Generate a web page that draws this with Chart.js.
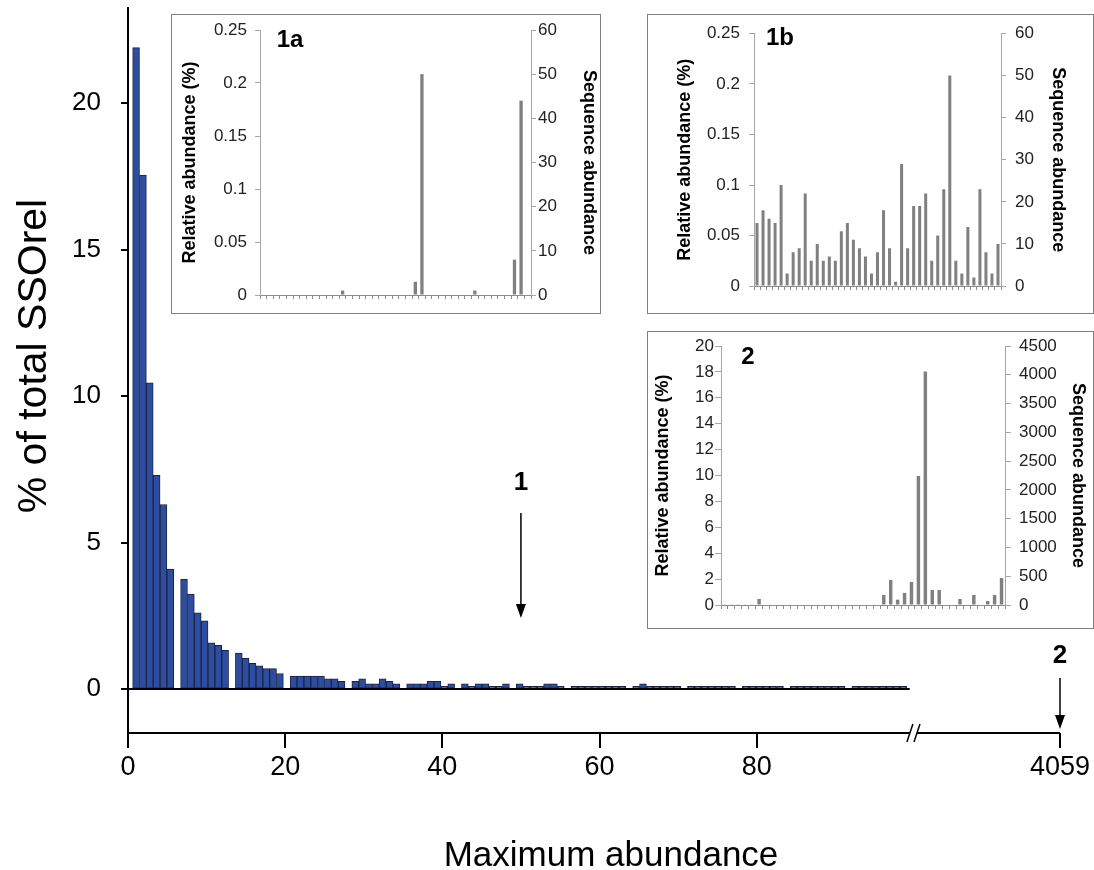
<!DOCTYPE html>
<html>
<head>
<meta charset="utf-8">
<script src="https://cdn.jsdelivr.net/npm/chart.js@4.4.1/dist/chart.umd.min.js"></script>
<style>
  html, body { margin: 0; padding: 0; background: #fff; }
  #page { position: relative; width: 1094px; height: 870px; overflow: hidden; }
  #main { position: absolute; left: 0; top: 0; }
  .inset { position: absolute; box-sizing: border-box; border: 1px solid #808080; background: #fff; }
  .inset canvas { display: block; }
</style>
</head>
<body>
<div id="page">
  <canvas id="main" width="1094" height="870"></canvas>
  <div class="inset" style="left:171px;top:14px;width:430px;height:300px"><canvas id="c1a" width="428" height="298"></canvas></div>
  <div class="inset" style="left:647px;top:14px;width:447px;height:300px"><canvas id="c1b" width="445" height="298"></canvas></div>
  <div class="inset" style="left:647px;top:331px;width:447px;height:298px"><canvas id="c2" width="445" height="296"></canvas></div>
</div>
<script>
// main histogram, % of total SSOrel in each maximum-abundance bin
var mainValues = [
  21.9, 17.55, 10.45, 7.3, 6.3, 4.1, 0, 3.75, 3.24, 2.6,
  2.33, 1.58, 1.49, 1.32, 0, 1.23, 1.05, 0.88, 0.79, 0.7,
  0.7, 0.53, 0, 0.44, 0.44, 0.44, 0.44, 0.44, 0.35, 0.35,
  0.26, 0, 0.26, 0.35, 0.18, 0.18, 0.35, 0.26, 0.18, 0,
  0.18, 0.18, 0.18, 0.26, 0.26, 0.09, 0.18, 0, 0.18, 0.09,
  0.18, 0.18, 0.09, 0.09, 0.18, 0, 0.18, 0.09, 0.09, 0.09,
  0.18, 0.18, 0.09, 0, 0.09, 0.09, 0.09, 0.09, 0.09, 0.09,
  0.09, 0.09, 0, 0.09, 0.18, 0.09, 0.09, 0.09, 0.09, 0.09,
  0, 0.09, 0.09, 0.09, 0.09, 0.09, 0.09, 0.09, 0, 0.09,
  0.09, 0.09, 0.09, 0.09, 0.09, 0, 0.09, 0.09, 0.09, 0.09,
  0.09, 0.09, 0.09, 0.09, 0, 0.09, 0.09, 0.09, 0.09, 0.09,
  0.09, 0.09, 0.09
];
var mainBins = mainValues.map(function (v, i) { return i + 1; });
var yTicks = [0, 5, 10, 15, 20];
var xTicks = [0, 20, 40, 60, 80];
var xBreakLabel = '4059';
var arrowAt = 50;            // SSOs of insets 1a / 1b
var arrowLabels = ['1', '2'];

// insets: sequence abundance of each sample (right axis), left axis is the same in %
var insetCats = [1,2,3,4,5,6,7,8,9,10,11,12,13,14,15,16,17,18,19,20,21,22,23,24,25,26,27,28,29,30,31,32,33,34,35,36,37,38,39,40,41];
var seq1a = [0,0,0,0,0,0,0,0,0,0, 0,0,1,0,0,0,0,0,0,0, 0,0,0,3,50,0,0,0,0,0, 0,0,1,0,0,0,0,0,8,44, 0];
var seq1b = [15,18,16,15,24,3,8,9,22,6, 10,6,7,6,13,15,11,9,7,3, 8,18,9,1,29,9,19,19,22,6, 12,23,50,6,3,14,2,23,8,3, 10];
var seq2 = [12,12,12,12,12,105,0,0,0,0, 0,0,0,0,0,0,0,0,0,0, 0,0,0,175,435,92,210,400,2240,4059, 260,260,0,0,105,0,175,0,70,175, 468];

Chart.defaults.font.family = "'Liberation Sans', Arial, sans-serif";
Chart.defaults.color = '#000';

var xMax = 118.6;        // where the 4059 tick sits on the broken axis
var breakFrom = 99.5, breakTo = 100.4;

function num(v) { return String(+(+v).toFixed(2)); }
function noPad(s) { s.paddingTop = 0; s.paddingBottom = 0; s.paddingLeft = 0; s.paddingRight = 0; }

var mainDecor = {
  id: 'mainDecor',
  afterDraw: function (chart) {
    var ctx = chart.ctx, xs = chart.scales.x, xb = chart.scales.xb, ys = chart.scales.y, area = chart.chartArea;
    ctx.save();
    ctx.strokeStyle = '#000';
    ctx.lineWidth = 2;
    // zero line under the bars
    var y0 = ys.getPixelForValue(0);
    ctx.beginPath();
    ctx.moveTo(area.left, y0);
    ctx.lineTo(xb.getPixelForValue(mainBins[mainBins.length - 1] + 0.5) + 3, y0);
    ctx.stroke();
    // broken x axis
    var yb = area.bottom, b1 = xs.getPixelForValue(breakFrom), b2 = xs.getPixelForValue(breakTo);
    ctx.beginPath();
    ctx.moveTo(area.left, yb); ctx.lineTo(b1, yb);
    ctx.moveTo(b2, yb); ctx.lineTo(area.right, yb);
    ctx.stroke();
    ctx.lineWidth = 1.5;
    [b1, b2].forEach(function (b) {
      ctx.beginPath(); ctx.moveTo(b - 3, yb + 9); ctx.lineTo(b + 3, yb - 9); ctx.stroke();
    });
    // arrows
    function arrow(x, top, bottom, label, labelY) {
      ctx.lineWidth = 1.5;
      ctx.beginPath(); ctx.moveTo(x, top); ctx.lineTo(x, bottom - 10); ctx.stroke();
      ctx.beginPath(); ctx.moveTo(x - 5, bottom - 14); ctx.lineTo(x + 5, bottom - 14); ctx.lineTo(x, bottom); ctx.closePath(); ctx.fill();
      ctx.font = "bold 26px 'Liberation Sans', Arial, sans-serif";
      ctx.textAlign = 'center'; ctx.textBaseline = 'middle';
      ctx.fillText(label, x, labelY);
    }
    ctx.fillStyle = '#000';
    arrow(xs.getPixelForValue(arrowAt), 513, 618, arrowLabels[0], 483);
    arrow(xs.getPixelForValue(xMax), 678, 729, arrowLabels[1], 656);
    // axis titles
    ctx.font = "35px 'Liberation Sans', Arial, sans-serif";
    ctx.textAlign = 'center'; ctx.textBaseline = 'middle';
    ctx.fillText('Maximum abundance', 611, 856);
    ctx.translate(35, 356);
    ctx.rotate(-Math.PI / 2);
    ctx.font = "41px 'Liberation Sans', Arial, sans-serif";
    ctx.fillText('% of total SSOrel', 0, 0);
    ctx.restore();
  }
};

new Chart(document.getElementById('main'), {
  type: 'bar',
  data: {
    datasets: [{
      data: mainValues.map(function (v, i) { return { x: mainBins[i], y: v }; }),
      xAxisID: 'xb',
      yAxisID: 'y',
      backgroundColor: '#2d4ea0',
      borderColor: '#1c2340',
      borderWidth: 1,
      borderSkipped: false,
      barPercentage: 1,
      categoryPercentage: 1
    }]
  },
  options: {
    responsive: false,
    animation: false,
    devicePixelRatio: 1,
    layout: { padding: { top: 8, right: 34, left: 0, bottom: 0 } },
    plugins: { legend: { display: false }, tooltip: { enabled: false } },
    scales: {
      xb: { type: 'linear', display: false, min: -0.18, max: 135.88, offset: false, grid: { offset: false } },
      x: {
        type: 'linear', position: 'bottom', min: 0, max: xMax, offset: false,
        afterBuildTicks: function (s) {
          s.ticks = xTicks.concat([xMax]).map(function (v) { return { value: v }; });
        },
        afterFit: function (s) { s.height = 137; noPad(s); },
        border: { display: false },
        grid: { offset: false, drawOnChartArea: false, drawTicks: true, tickLength: 15, color: '#000', lineWidth: 2 },
        ticks: {
          autoSkip: false, maxRotation: 0, padding: 3, color: '#000',
          font: { size: 27 },
          callback: function (v) { return v === xMax ? xBreakLabel : String(v); }
        }
      },
      y: {
        type: 'linear', position: 'left', min: -1.5, max: 23.25,
        afterBuildTicks: function (s) {
          s.ticks = yTicks.map(function (v) { return { value: v }; });
        },
        afterFit: function (s) { s.width = 128; noPad(s); },
        border: { color: '#000', width: 2 },
        grid: { drawOnChartArea: false, drawTicks: true, tickLength: 7, color: '#000', lineWidth: 2 },
        ticks: { padding: 20, color: '#000', font: { size: 26 }, callback: function (v) { return String(v); } }
      }
    }
  },
  plugins: [mainDecor]
});

function tagPlugin(text, x, y) {
  return {
    id: 'tag',
    afterDraw: function (chart) {
      var ctx = chart.ctx;
      ctx.save();
      ctx.font = "bold 24px 'Liberation Sans', Arial, sans-serif";
      ctx.fillStyle = '#000';
      ctx.textAlign = 'center'; ctx.textBaseline = 'middle';
      ctx.fillText(text, x, y);
      ctx.restore();
    }
  };
}

function inset(id, seq, o) {
  return new Chart(document.getElementById(id), {
    type: 'bar',
    data: {
      labels: insetCats,
      datasets: [{ data: seq, yAxisID: 'y2', backgroundColor: '#808080', barPercentage: 0.5, categoryPercentage: 1 }]
    },
    options: {
      responsive: false,
      animation: false,
      devicePixelRatio: 1,
      layout: { padding: { top: o.top, left: 0, right: 0, bottom: 0 } },
      plugins: { legend: { display: false }, tooltip: { enabled: false } },
      scales: {
        x: {
          afterFit: function (s) { s.height = o.xH; noPad(s); },
          ticks: { display: false },
          border: { color: '#8c8c8c' },
          grid: { drawOnChartArea: false, tickLength: 4, color: '#8c8c8c' }
        },
        y: {
          position: 'left', min: 0, max: o.lMax,
          afterFit: function (s) { s.width = o.leftW; noPad(s); },
          border: { color: '#a6a6a6' },
          grid: { drawOnChartArea: false, tickLength: o.tl, color: '#a6a6a6' },
          ticks: { stepSize: o.lStep, padding: o.lPad, color: '#222', font: { size: 17 }, callback: num },
          title: { display: true, text: 'Relative abundance (%)', color: '#000', font: { size: 18, weight: 'bold' }, padding: { top: o.lTitle, bottom: 0 } }
        },
        y2: {
          position: 'right', min: 0, max: o.rMax,
          afterFit: function (s) { s.width = o.rightW; noPad(s); },
          border: { color: '#a6a6a6' },
          grid: { drawOnChartArea: false, tickLength: o.tl, color: '#a6a6a6' },
          ticks: { stepSize: o.rStep, padding: o.rPad, color: '#222', font: { size: 17 }, callback: num },
          title: { display: true, text: 'Sequence abundance', color: '#000', font: { size: 18, weight: 'bold' }, padding: { top: o.rTitle, bottom: 0 } }
        }
      }
    },
    plugins: [tagPlugin(o.tag, o.tagX, o.tagY)]
  });
}

inset('c1a', seq1a, { top: 15, xH: 18, leftW: 88, rightW: 69, lMax: 0.25, lStep: 0.05, rMax: 60, rStep: 10,
  tl: 5, lPad: 8, rPad: 2, lTitle: 7, rTitle: 0, tag: '1a', tagX: 118, tagY: 25 });
inset('c1b', seq1b, { top: 18.5, xH: 27, leftW: 106, rightW: 92, lMax: 0.25, lStep: 0.05, rMax: 60, rStep: 10,
  tl: 5, lPad: 9, rPad: 9, lTitle: 26, rTitle: 24, tag: '1b', tagX: 132, tagY: 23 });
inset('c2', seq2, { top: 14, xH: 23, leftW: 73, rightW: 88, lMax: 20, lStep: 2, rMax: 4500, rStep: 500,
  tl: 6, lPad: 1, rPad: 8, lTitle: 4, rTitle: 4, tag: '2', tagX: 100, tagY: 25 });
</script>
</body>
</html>
